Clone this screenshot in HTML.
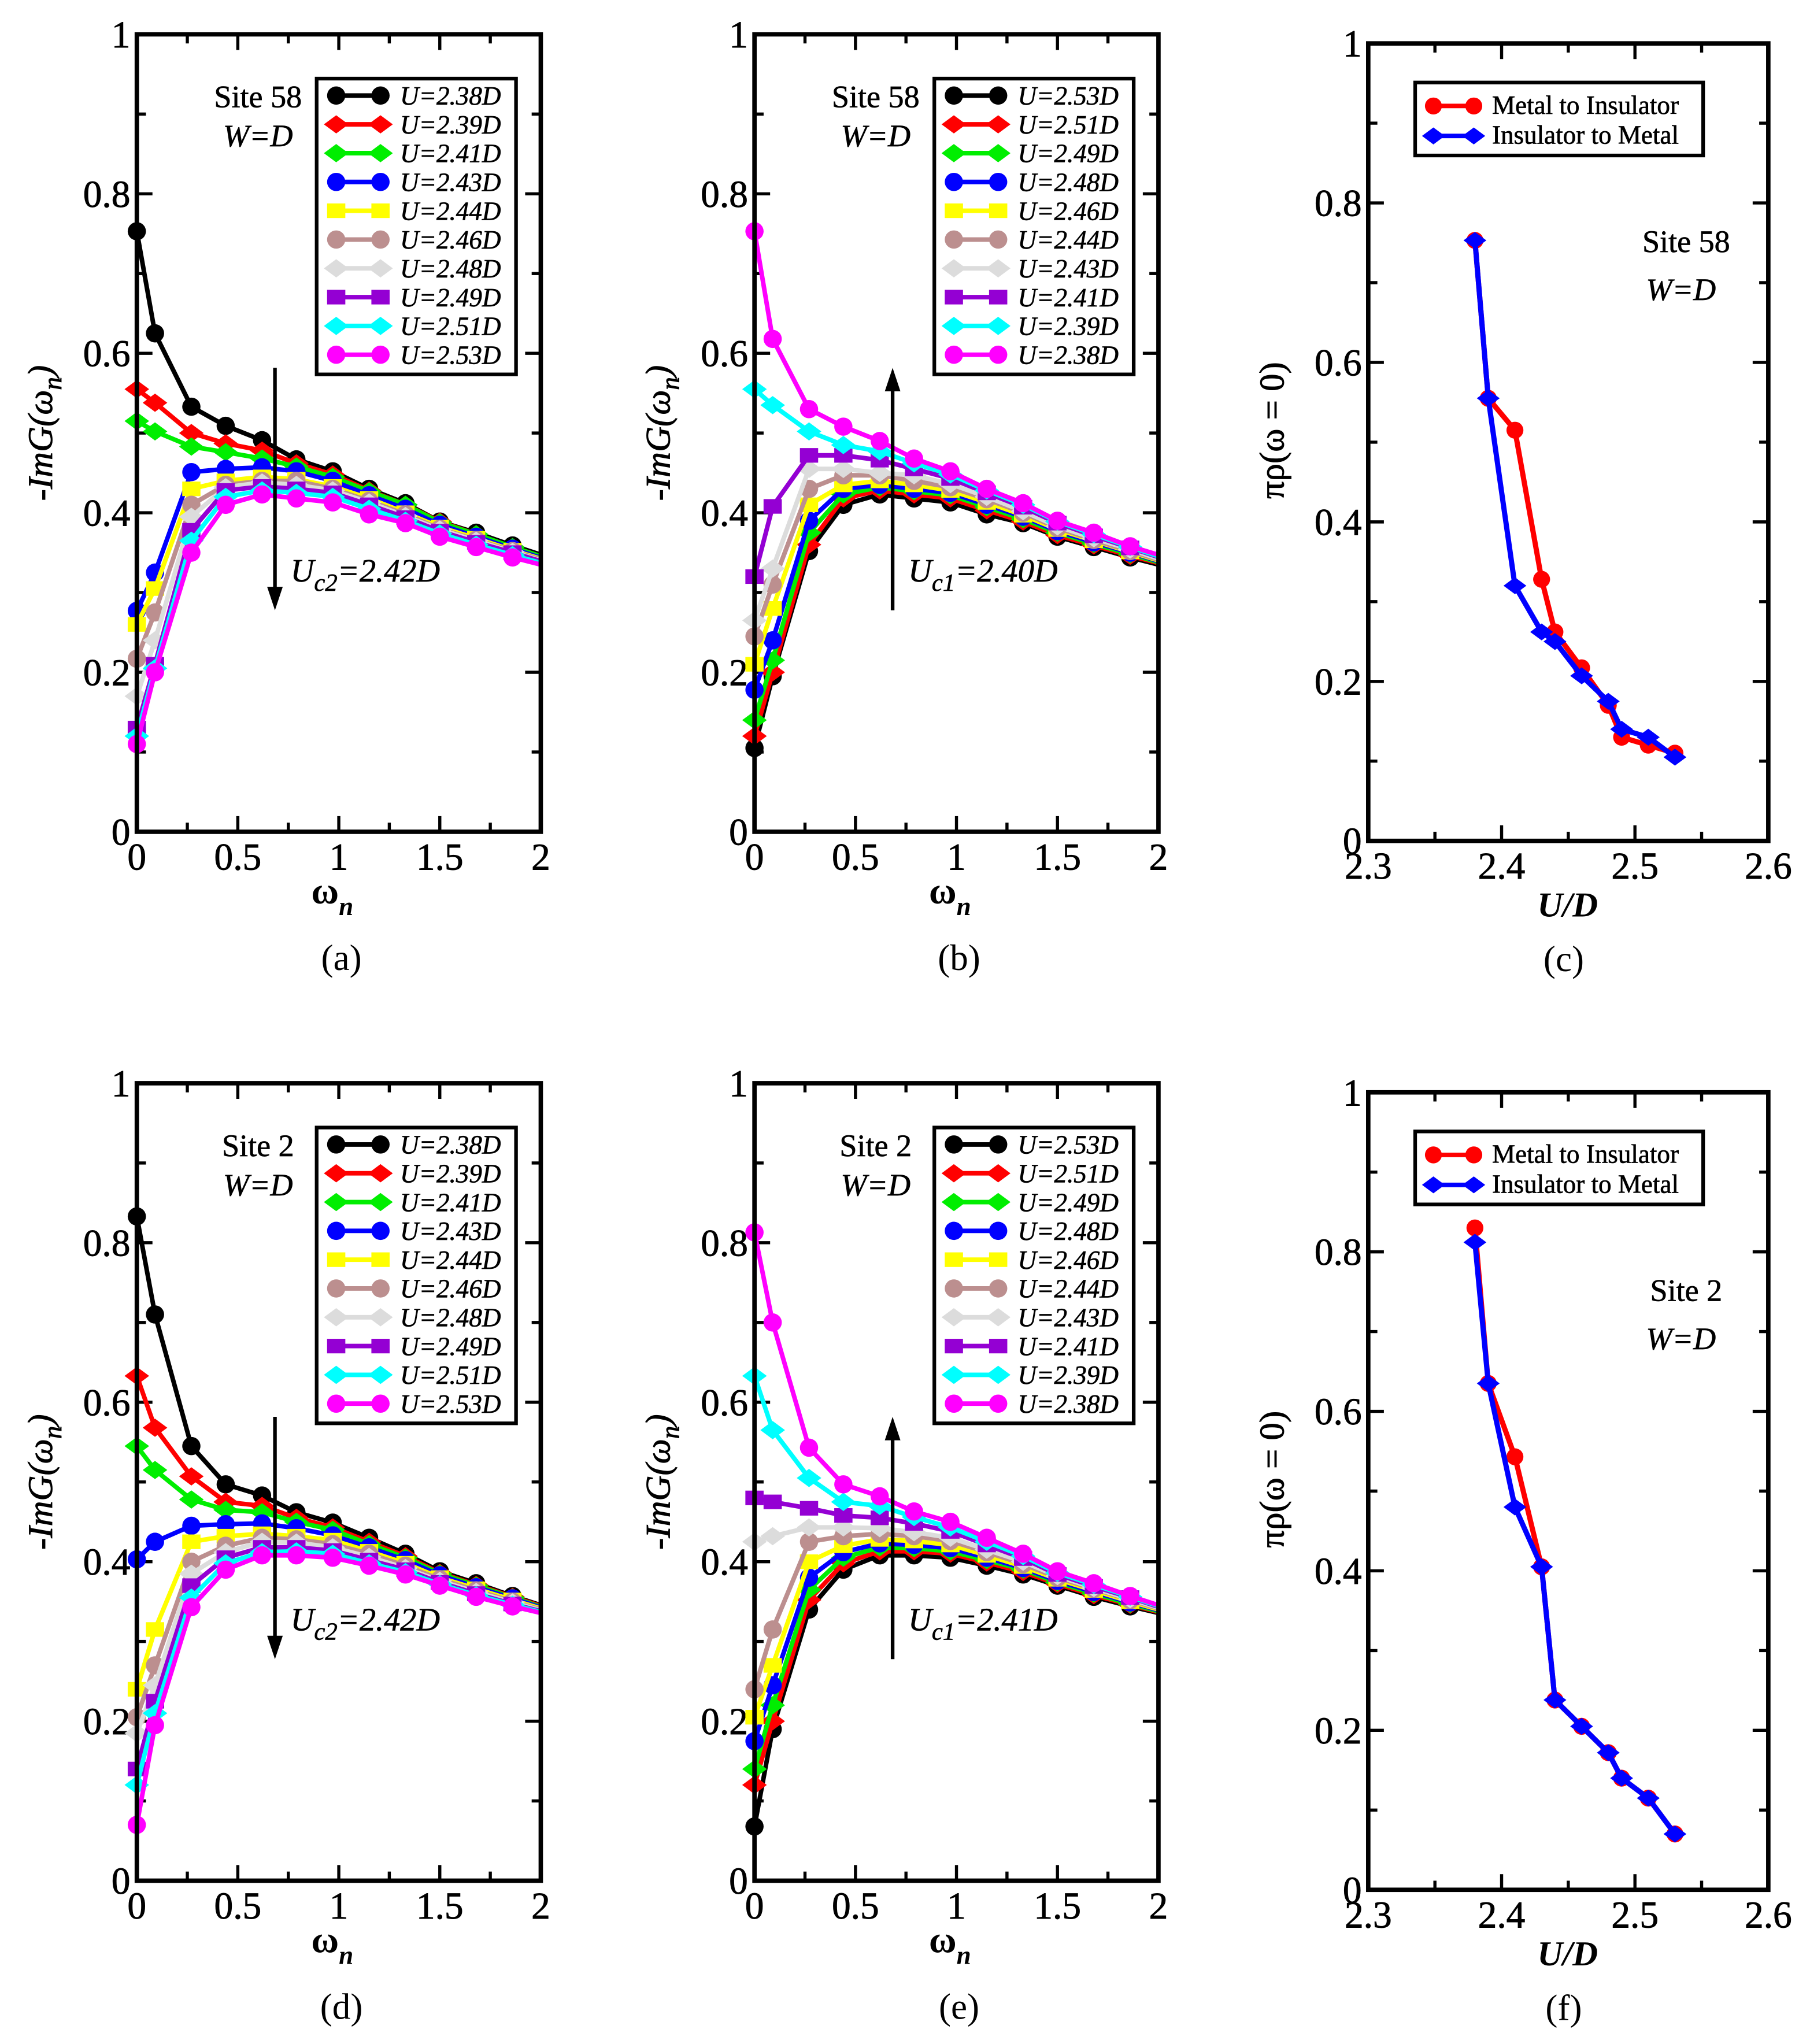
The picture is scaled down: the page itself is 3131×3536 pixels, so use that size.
<!DOCTYPE html>
<html><head><meta charset="utf-8"><style>
html,body{margin:0;padding:0;background:#fff}
svg{display:block}
text{font-family:"Liberation Serif",serif;fill:#000}
</style></head><body>
<svg id="fig" width="3131" height="3536" viewBox="0 0 1389 1568" xmlns="http://www.w3.org/2000/svg"></svg>
<script>
const omega = [0,0.09,0.27,0.44,0.62,0.79,0.97,1.15,1.33,1.5,1.68,1.86,2.03];
const uValues = [2.38,2.39,2.41,2.43,2.44,2.46,2.48,2.49,2.51,2.53];
const labelsUp = ["U=2.38D","U=2.39D","U=2.41D","U=2.43D","U=2.44D","U=2.46D","U=2.48D","U=2.49D","U=2.51D","U=2.53D"];
const labelsDown = ["U=2.53D","U=2.51D","U=2.49D","U=2.48D","U=2.46D","U=2.44D","U=2.43D","U=2.41D","U=2.39D","U=2.38D"];
const xTicks = [0,0.5,1,1.5,2];
const xTickLabels = ["0","0.5","1","1.5","2"];
const yTicks = [0,0.2,0.4,0.6,0.8,1];
const yTickLabels = ["0","0.2","0.4","0.6","0.8","1"];
const uTicks = [2.3,2.4,2.5,2.6];
const uTickLabels = ["2.3","2.4","2.5","2.6"];

const seriesA = [
[0.753,0.625,0.533,0.509,0.491,0.467,0.452,0.43,0.412,0.389,0.375,0.359,0.345],
[0.555,0.538,0.50,0.487,0.478,0.462,0.448,0.428,0.41,0.389,0.373,0.357,0.343],
[0.515,0.502,0.483,0.476,0.468,0.458,0.445,0.427,0.41,0.388,0.373,0.357,0.343],
[0.277,0.325,0.451,0.455,0.457,0.452,0.44,0.422,0.405,0.385,0.37,0.355,0.341],
[0.26,0.305,0.43,0.44,0.445,0.442,0.433,0.418,0.4,0.382,0.368,0.353,0.34],
[0.217,0.275,0.41,0.435,0.44,0.44,0.43,0.415,0.398,0.38,0.366,0.352,0.339],
[0.17,0.24,0.395,0.432,0.438,0.435,0.428,0.413,0.396,0.379,0.365,0.351,0.338],
[0.13,0.21,0.378,0.428,0.433,0.43,0.425,0.41,0.394,0.377,0.363,0.35,0.337],
[0.12,0.205,0.365,0.42,0.428,0.425,0.42,0.405,0.39,0.374,0.36,0.347,0.335],
[0.11,0.2,0.35,0.41,0.423,0.418,0.413,0.398,0.387,0.37,0.357,0.344,0.333]];
const seriesB = [
[0.105,0.195,0.352,0.41,0.423,0.418,0.413,0.398,0.387,0.37,0.357,0.344,0.333],
[0.12,0.2,0.36,0.418,0.428,0.423,0.418,0.403,0.389,0.372,0.359,0.346,0.335],
[0.14,0.215,0.375,0.423,0.432,0.427,0.422,0.407,0.392,0.375,0.361,0.348,0.336],
[0.178,0.24,0.39,0.43,0.435,0.43,0.425,0.41,0.395,0.377,0.363,0.35,0.337],
[0.21,0.28,0.41,0.435,0.44,0.435,0.428,0.413,0.397,0.379,0.365,0.351,0.338],
[0.245,0.31,0.43,0.447,0.447,0.44,0.432,0.417,0.4,0.381,0.366,0.352,0.339],
[0.265,0.33,0.455,0.455,0.45,0.447,0.436,0.42,0.402,0.383,0.368,0.354,0.34],
[0.32,0.408,0.472,0.472,0.466,0.455,0.443,0.425,0.407,0.387,0.371,0.356,0.342],
[0.555,0.535,0.502,0.485,0.477,0.462,0.448,0.428,0.41,0.389,0.373,0.357,0.343],
[0.753,0.618,0.53,0.508,0.49,0.468,0.452,0.43,0.412,0.39,0.375,0.358,0.345]];
const seriesD = [
[0.833,0.71,0.545,0.497,0.483,0.462,0.449,0.43,0.41,0.388,0.373,0.357,0.343],
[0.633,0.568,0.507,0.475,0.47,0.455,0.443,0.425,0.407,0.386,0.371,0.356,0.342],
[0.545,0.515,0.478,0.465,0.462,0.45,0.44,0.422,0.405,0.385,0.37,0.355,0.341],
[0.403,0.425,0.445,0.447,0.448,0.442,0.433,0.418,0.402,0.383,0.368,0.354,0.34],
[0.24,0.315,0.425,0.432,0.435,0.432,0.427,0.413,0.398,0.38,0.366,0.352,0.339],
[0.205,0.27,0.4,0.42,0.43,0.428,0.422,0.41,0.395,0.378,0.364,0.35,0.338],
[0.185,0.245,0.385,0.412,0.425,0.424,0.418,0.406,0.392,0.376,0.362,0.349,0.337],
[0.14,0.225,0.37,0.405,0.418,0.418,0.414,0.402,0.39,0.374,0.36,0.347,0.336],
[0.12,0.21,0.355,0.398,0.412,0.413,0.41,0.398,0.387,0.372,0.358,0.346,0.335],
[0.07,0.195,0.343,0.39,0.408,0.408,0.405,0.395,0.384,0.37,0.356,0.344,0.334]];
const seriesE = [
[0.068,0.19,0.34,0.39,0.408,0.408,0.405,0.395,0.384,0.37,0.356,0.344,0.334],
[0.12,0.2,0.352,0.398,0.413,0.413,0.41,0.399,0.387,0.372,0.358,0.346,0.335],
[0.14,0.22,0.365,0.405,0.418,0.417,0.413,0.402,0.39,0.374,0.36,0.347,0.336],
[0.175,0.245,0.38,0.412,0.423,0.421,0.417,0.405,0.392,0.376,0.362,0.349,0.337],
[0.205,0.27,0.4,0.42,0.428,0.426,0.421,0.408,0.394,0.378,0.364,0.35,0.338],
[0.24,0.315,0.425,0.432,0.435,0.432,0.426,0.412,0.397,0.38,0.366,0.352,0.339],
[0.425,0.432,0.443,0.443,0.442,0.437,0.43,0.415,0.4,0.382,0.367,0.353,0.34],
[0.48,0.475,0.467,0.458,0.455,0.448,0.438,0.421,0.404,0.384,0.369,0.355,0.341],
[0.633,0.565,0.505,0.475,0.47,0.456,0.443,0.425,0.407,0.386,0.371,0.356,0.342],
[0.813,0.7,0.543,0.497,0.482,0.463,0.45,0.43,0.41,0.388,0.373,0.357,0.343]];
const rhoC_MI = [0.753,0.555,0.515,0.328,0.262,0.217,0.17,0.13,0.12,0.11];
const rhoC_IM = [0.753,0.555,0.32,0.262,0.25,0.207,0.175,0.14,0.13,0.105];
const rhoF_MI = [0.83,0.635,0.543,0.405,0.238,0.205,0.172,0.14,0.115,0.07];
const rhoF_IM = [0.812,0.635,0.48,0.405,0.238,0.205,0.172,0.14,0.115,0.07];

const colors = ["#000000","#ff0000","#00ee00","#0000ff","#ffff00","#bc8f8f","#dcdcdc","#9400d3","#00ffff","#ff00ff"];
const shapes = ["circle","diamond","diamond","circle","square","circle","diamond","square","diamond","circle"];

const NS = "http://www.w3.org/2000/svg";
const svg = document.getElementById("fig");
function el(tag, attrs, parent){
  const e = document.createElementNS(NS, tag);
  for (const k in attrs) e.setAttribute(k, attrs[k]);
  (parent||svg).appendChild(e);
  return e;
}
function marker(g, shape, x, y, color, r){
  let m;
  if (shape==="circle") m = el("circle",{cx:x,cy:y,r:r,fill:color},g);
  else if (shape==="square") m = el("rect",{x:x-r,y:y-r*0.8,width:2*r,height:1.6*r,fill:color},g);
  else m = el("polygon",{points:`${x-r*1.35},${y} ${x},${y-r} ${x+r*1.35},${y} ${x},${y+r}`,fill:color},g);
  
  
  return m;
}
function makeAxes(name, x0, x1, y0, y1, xmin, xmax, ymin, ymax, xt, xtl, xminor){
  const g = el("g",{});
  
  
  const sx = v => x0 + (v - xmin)/(xmax - xmin)*(x1 - x0);
  const sy = v => y0 - (v - ymin)/(ymax - ymin)*(y0 - y1);
  const ticks = el("g",{stroke:"#000","stroke-width":2.4},g);
  
  
  for (let v = ymin; v <= ymax+1e-9; v += 0.1){
    const maj = Math.abs(v*5 - Math.round(v*5)) < 1e-6;
    const L = maj ? 12 : 7, y = sy(v);
    el("line",{x1:x0,y1:y,x2:x0+L,y2:y},ticks);
    el("line",{x1:x1,y1:y,x2:x1-L,y2:y},ticks);
  }
  for (let v = xmin; v <= xmax+1e-9; v += xminor){
    const maj = Math.abs(((v - xmin)/(xminor*2)) - Math.round((v - xmin)/(xminor*2))) < 1e-6;
    const L = maj ? 12 : 7, x = sx(v);
    el("line",{x1:x,y1:y0,x2:x,y2:y0-L},ticks);
    el("line",{x1:x,y1:y1,x2:x,y2:y1+L},ticks);
  }
  for (let i=0;i<yTicks.length;i++){
    const t = el("text",{x:x0-5,y:sy(yTicks[i])+10,"font-size":29,"text-anchor":"end","stroke":"#000","stroke-width":0.4},g);
    
    
    t.textContent = yTickLabels[i];
  }
  for (let i=0;i<xt.length;i++){
    const t = el("text",{x:sx(xt[i]),y:y0+29,"font-size":29,"text-anchor":"middle","stroke":"#000","stroke-width":0.4},g);
    
    
    t.textContent = xtl[i];
  }
  const clip = "clip-"+name;
  const cp = el("clipPath",{id:clip},g);
  el("rect",{x:x0,y:y1,width:x1-x0,height:y0-y1},cp);
  const plot = el("g",{},g);
  
  
  return {g, sx, sy, plot, clip, xmax, frame: () => {
    const f = el("rect",{x:x0,y:y1,width:x1-x0,height:y0-y1,fill:"none",stroke:"#000","stroke-width":3.4},g);
    
    
  }};
}
function greenPanel(name, x0, y1, data, labels, site, arrowDown, ucText, ucSub, letter){
  const y0 = y1 + 612, x1 = x0 + 310;
  const ax = makeAxes(name, x0, x1, y0, y1, 0, 2, 0, 1, xTicks, xTickLabels, 0.25);
  ax.frame();
  for (let s=0; s<data.length; s++){
    const pts = omega.map((w,i)=>`${ax.sx(w)},${ax.sy(data[s][i])}`).join(" ");
    const sg = el("g",{},ax.plot);
    
    
    el("polyline",{points:pts,fill:"none",stroke:colors[s],"stroke-width":3.5,"clip-path":`url(#${ax.clip})`},sg);
    omega.forEach((w,i)=>{ if (w <= ax.xmax) marker(sg,shapes[s],ax.sx(w),ax.sy(data[s][i]),colors[s],7); });
  }
  const lg = el("g",{},ax.g);
  
  
  el("rect",{x:x0+138,y:y1+34,width:153,height:227,fill:"#fff",stroke:"#000","stroke-width":2.8},lg);
  for (let s=0;s<labels.length;s++){
    const yy = y1 + 47 + s*22.1;
    const e = el("g",{},lg);
    
    
    el("line",{x1:x0+153,y1:yy,x2:x0+187,y2:yy,stroke:colors[s],"stroke-width":3.5},e);
    marker(e,shapes[s],x0+153,yy,colors[s],7);
    marker(e,shapes[s],x0+187,yy,colors[s],7);
    const t = el("text",{x:x0+202,y:yy+7,"font-size":20,"font-style":"italic","stroke":"#000","stroke-width":0.3},e);
    t.textContent = labels[s];
  }
  const st = el("text",{x:x0+93,y:y1+56,"font-size":24,"text-anchor":"middle","stroke":"#000","stroke-width":0.3},ax.g);
  
  
  st.textContent = site;
  const wt = el("text",{x:x0+93,y:y1+86,"font-size":24,"text-anchor":"middle","font-style":"italic","stroke":"#000","stroke-width":0.3},ax.g);
  
  
  wt.textContent = "W=D";
  const axx = x0 + 106;
  const ya = y1 + 256, yb = y1 + 442;
  const ar = el("g",{},ax.g);
  
  
  if (arrowDown){
    el("line",{x1:axx,y1:ya,x2:axx,y2:yb-14,stroke:"#000","stroke-width":2.8},ar);
    el("polygon",{points:`${axx-6},${yb-18} ${axx+6},${yb-18} ${axx},${yb}`,fill:"#000"},ar);
  } else {
    el("line",{x1:axx,y1:ya+14,x2:axx,y2:yb,stroke:"#000","stroke-width":2.8},ar);
    el("polygon",{points:`${axx-6},${ya+18} ${axx+6},${ya+18} ${axx},${ya}`,fill:"#000"},ar);
  }
  const ut = el("text",{x:axx+12,y:y1+420,"font-size":25,"font-style":"italic","stroke":"#000","stroke-width":0.3},ax.g);
  
  
  ut.innerHTML = `U<tspan font-size="19" dy="7">${ucSub}</tspan><tspan dy="-7">${ucText}</tspan>`;
  const yl = el("text",{transform:`translate(${x0-65},${y1+306}) rotate(-90)`,"font-size":27,"text-anchor":"middle","font-style":"italic","stroke":"#000","stroke-width":0.4},ax.g);
  
  
  yl.innerHTML = `-ImG(ω<tspan font-size="20" dy="7">n</tspan><tspan dy="-7">)</tspan>`;
  const xl = el("text",{x:x0+150,y:y0+55,"font-size":29,"font-weight":"bold","text-anchor":"middle"},ax.g);
  
  
  xl.innerHTML = `ω<tspan font-size="20" dy="9" font-style="italic">n</tspan>`;
  const pl = el("text",{x:x0+157,y:y0+106,"font-size":28,"text-anchor":"middle"},ax.g);
  
  
  pl.textContent = letter;
}
function rhoPanel(name, y1, mi, im, site, letter){
  const x0 = 1050, x1 = 1357, y0 = y1 + 612;
  const ax = makeAxes(name, x0, x1, y0, y1, 2.3, 2.6, 0, 1, uTicks, uTickLabels, 0.05);
  ax.frame();
  const sMI = el("g",{},ax.plot);
  
  
  el("polyline",{points:uValues.map((u,i)=>`${ax.sx(u)},${ax.sy(mi[i])}`).join(" "),fill:"none",stroke:"#ff0000","stroke-width":4},sMI);
  uValues.forEach((u,i)=>marker(sMI,"circle",ax.sx(u),ax.sy(mi[i]),"#ff0000",6.5));
  const sIM = el("g",{},ax.plot);
  
  
  el("polyline",{points:uValues.map((u,i)=>`${ax.sx(u)},${ax.sy(im[i])}`).join(" "),fill:"none",stroke:"#0000ff","stroke-width":4},sIM);
  uValues.forEach((u,i)=>marker(sIM,"diamond",ax.sx(u),ax.sy(im[i]),"#0000ff",6.5));
  const lg = el("g",{},ax.g);
  
  
  el("rect",{x:1086,y:y1+30,width:221,height:56,fill:"#fff",stroke:"#000","stroke-width":2.8},lg);
  const ent = [["Metal to Insulator","#ff0000","circle"],["Insulator to Metal","#0000ff","diamond"]];
  ent.forEach((e,k)=>{
    const yy = y1 + 48 + k*23;
    const eg = el("g",{},lg);
    
    
    el("line",{x1:1100,y1:yy,x2:1131,y2:yy,stroke:e[1],"stroke-width":3.5},eg);
    marker(eg,e[2],1100,yy,e[1],6.5);
    marker(eg,e[2],1131,yy,e[1],6.5);
    const t = el("text",{x:1145,y:yy+6,"font-size":20,"stroke":"#000","stroke-width":0.3},eg);
    t.textContent = e[0];
  });
  const st = el("text",{x:1294,y:y1+160,"font-size":24,"text-anchor":"middle","stroke":"#000","stroke-width":0.3},ax.g);
  
  
  st.textContent = site;
  const wt = el("text",{x:1290,y:y1+197,"font-size":24,"text-anchor":"middle","font-style":"italic","stroke":"#000","stroke-width":0.3},ax.g);
  
  
  wt.textContent = "W=D";
  const yl = el("text",{transform:`translate(${x0-65},${y1+297}) rotate(-90)`,"font-size":27,"text-anchor":"middle","stroke":"#000","stroke-width":0.4},ax.g);
  
  
  yl.textContent = "πρ(ω = 0)";
  const xl = el("text",{x:1203,y:y0+58,"font-size":27,"text-anchor":"middle","font-style":"italic","font-weight":"bold"},ax.g);
  
  
  xl.textContent = "U/D";
  const pl = el("text",{x:1200,y:y0+100,"font-size":28,"text-anchor":"middle"},ax.g);
  
  
  pl.textContent = letter;
}
greenPanel("panel-a",105,26,seriesA,labelsUp,"Site 58",true,"=2.42D","c2","(a)");
greenPanel("panel-b",579,26,seriesB,labelsDown,"Site 58",false,"=2.40D","c1","(b)");
rhoPanel("panel-c",33,rhoC_MI,rhoC_IM,"Site 58","(c)");
greenPanel("panel-d",105,831,seriesD,labelsUp,"Site 2",true,"=2.42D","c2","(d)");
greenPanel("panel-e",579,831,seriesE,labelsDown,"Site 2",false,"=2.41D","c1","(e)");
rhoPanel("panel-f",838,rhoF_MI,rhoF_IM,"Site 2","(f)");
</script>
</body></html>
